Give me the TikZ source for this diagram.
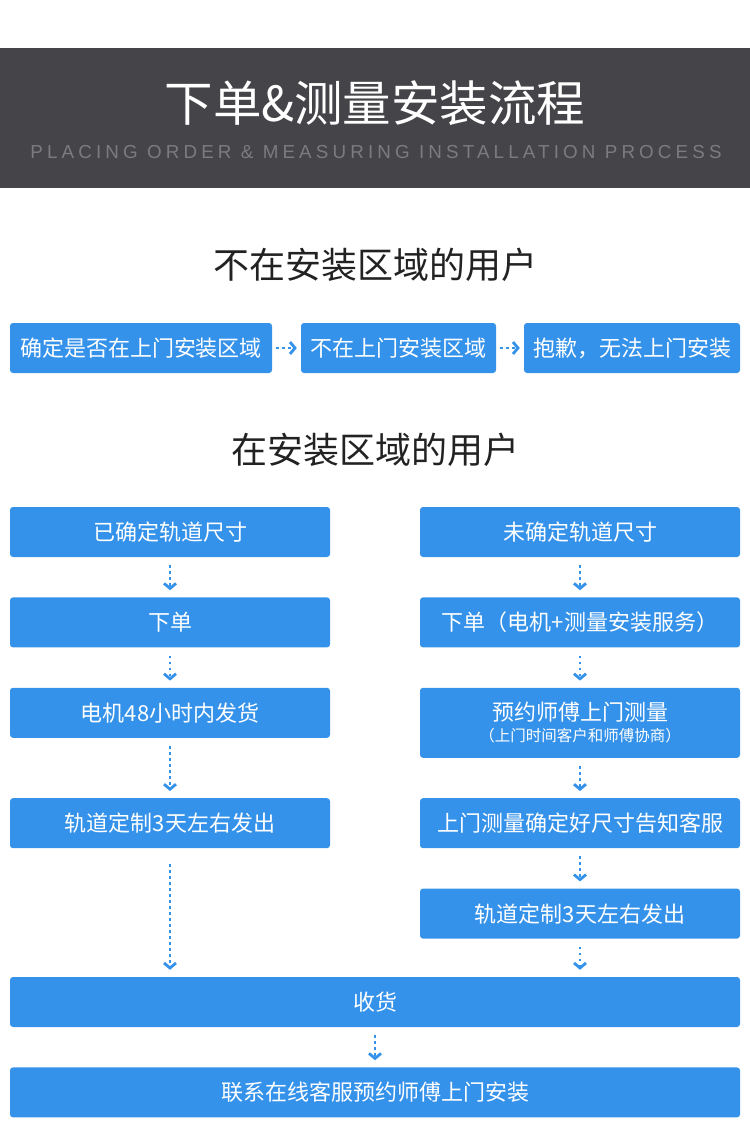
\documentclass[tikz,border=0pt]{standalone}
\usepackage{fontspec}
\setmainfont{Noto Sans CJK SC}
\newfontfamily\subfont[LetterSpace=22]{Liberation Sans}
\usetikzlibrary{positioning}
\usetikzlibrary{arrows.meta}
\definecolor{headgray}{HTML}{454549}
\definecolor{subgray}{HTML}{7C7C80}
\definecolor{boxblue}{HTML}{3592EA}
\definecolor{titleblack}{HTML}{222222}
\tikzset{
  main node/.style={fill=boxblue, rounded corners=3pt, text=white, inner sep=0pt,
    minimum height=50pt, font=\fontsize{22}{26}\selectfont, align=center},
  side node/.style={main node, minimum width=320pt},
  wide node/.style={main node, minimum width=730pt},
  flow/.style={draw=boxblue, line width=2.6pt, dash pattern=on 2.6pt off 3.4pt,
    shorten <=8pt, shorten >=7pt,
    -{Straight Barb[length=5pt,width=12pt,line width=2.8pt]}},
  section/.style={text=titleblack, font=\fontsize{36}{42}\selectfont},
}
\begin{document}
\begin{tikzpicture}[x=1pt,y=-1pt]
    \useasboundingbox (0,0) rectangle (750,1136);

    % header band
    \fill[headgray] (0,48) rectangle (750,188);
    \node[text=white, font=\fontsize{48.5}{54}\selectfont] (title) at (375,103) {下单\&测量安装流程};
    \node[text=subgray, font=\subfont\fontsize{18.8}{21}\selectfont] (subtitle) at (376,152)
        {PLACING ORDER \& MEASURING INSTALLATION PROCESS};

    % users outside the area
    \node[section] (outside) at (375,265) {不在安装区域的用户};
    \node[main node, minimum width=262pt] (check) at (141,348) {确定是否在上门安装区域};
    \node[main node, minimum width=195pt] (notin) at (398.5,348) {不在上门安装区域};
    \node[main node, minimum width=216pt] (sorry) at (632,348) {抱歉，无法上门安装};

    \draw[flow, shorten <=4pt, shorten >=4pt] (check) -- (notin);
    \draw[flow, shorten <=4pt, shorten >=4pt] (notin) -- (sorry);

    % users inside the area
    \node[section] (inside) at (375,450) {在安装区域的用户};

    \node[side node] (known) at (170,532) {已确定轨道尺寸};
    \node[side node] (order) [below=40pt of known] {下单};
    \node[side node] (ship) [below=40pt of order] {电机48小时内发货};
    \node[side node] (rail) [below=60pt of ship] {轨道定制3天左右发出};

    \node[side node] (unknown) at (580,532) {未确定轨道尺寸};
    \node[side node] (orderb) [below=40pt of unknown] {下单（电机+测量安装服务）};
    \node[side node, minimum height=70pt] (book) [below=40pt of orderb]
        {预约师傅上门测量\\[-5pt]{\fontsize{15.5}{18}\selectfont（上门时间客户和师傅协商）}};
    \node[side node] (measure) [below=40pt of book] {上门测量确定好尺寸告知客服};
    \node[side node] (railb) [below=40pt of measure] {轨道定制3天左右发出};

    \node[wide node] (receive) at (375,1002) {收货};
    \node[wide node] (contact) [below=40pt of receive] {联系在线客服预约师傅上门安装};

    \draw[flow] (known) -- (order);
    \draw[flow] (order) -- (ship);
    \draw[flow] (ship) -- (rail);
    \draw[flow, shorten <=16pt] (rail.south) -- (rail.south |- receive.north);

    \draw[flow] (unknown) -- (orderb);
    \draw[flow] (orderb) -- (book);
    \draw[flow] (book) -- (measure);
    \draw[flow] (measure) -- (railb);
    \draw[flow] (railb.south) -- (railb.south |- receive.north);

    \draw[flow] (receive) -- (contact);
\end{tikzpicture}
\end{document}
